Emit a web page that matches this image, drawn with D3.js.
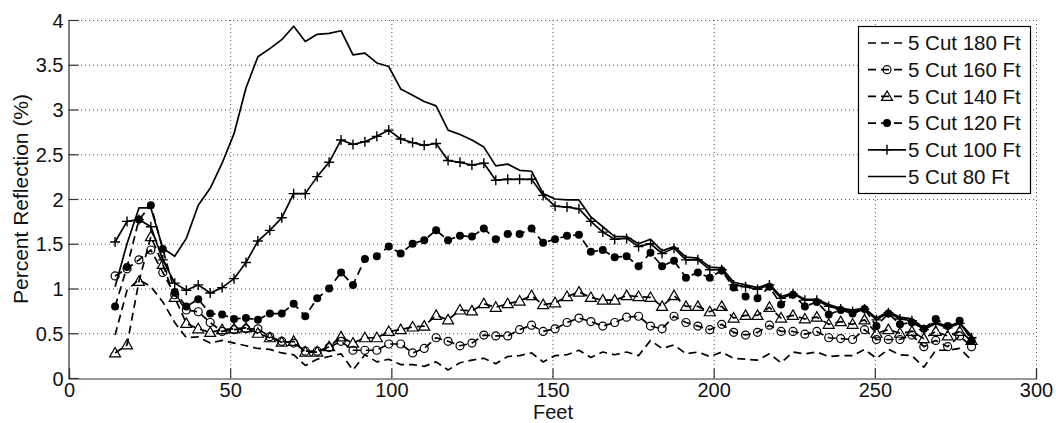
<!DOCTYPE html>
<html><head><meta charset="utf-8">
<script src="https://cdn.jsdelivr.net/npm/d3@7"></script>
<style>
html,body{margin:0;padding:0;background:#fff;}
svg{display:block;font-family:"Liberation Sans",Arial,sans-serif;}
</style></head>
<body><svg id="c" width="1056" height="423"></svg>
<script>
const feet = [14.3,18.0,21.7,25.4,29.1,32.8,36.4,40.1,43.8,47.5,51.2,54.9,58.6,62.3,66.0,69.7,73.3,77.0,80.7,84.4,88.1,91.8,95.5,99.2,102.9,106.6,110.2,113.9,117.6,121.3,125.0,128.7,132.4,136.1,139.8,143.5,147.1,150.8,154.5,158.2,161.9,165.6,169.3,173.0,176.7,180.4,184.0,187.7,191.4,195.1,198.8,202.5,206.2,209.9,213.6,217.3,220.9,224.6,228.3,232.0,235.7,239.4,243.1,246.8,250.5,254.2,257.8,261.5,265.2,268.9,272.6,276.3,280.0];

const cut180 = [0.48,0.98,1.10,1.02,0.85,0.62,0.45,0.46,0.39,0.42,0.39,0.36,0.33,0.32,0.28,0.26,0.14,0.21,0.24,0.27,0.09,0.26,0.18,0.21,0.15,0.15,0.13,0.18,0.09,0.17,0.20,0.22,0.16,0.24,0.25,0.28,0.18,0.25,0.26,0.31,0.23,0.29,0.26,0.29,0.25,0.42,0.33,0.37,0.27,0.29,0.24,0.29,0.22,0.21,0.20,0.27,0.17,0.29,0.27,0.29,0.24,0.25,0.25,0.32,0.22,0.32,0.26,0.25,0.12,0.31,0.31,0.33,0.20];

const cut160 = [1.14,1.22,1.32,1.43,1.18,0.93,0.76,0.74,0.62,0.52,0.54,0.55,0.55,0.46,0.41,0.39,0.30,0.30,0.34,0.41,0.31,0.31,0.31,0.38,0.38,0.28,0.33,0.45,0.41,0.36,0.39,0.48,0.47,0.47,0.54,0.59,0.52,0.55,0.62,0.67,0.63,0.58,0.62,0.68,0.69,0.58,0.55,0.69,0.62,0.58,0.54,0.60,0.51,0.48,0.51,0.59,0.52,0.52,0.49,0.52,0.45,0.44,0.43,0.54,0.43,0.43,0.43,0.48,0.35,0.42,0.35,0.47,0.35];

const cut140 = [0.28,0.37,1.08,1.58,1.27,0.90,0.61,0.55,0.51,0.54,0.55,0.56,0.50,0.45,0.40,0.41,0.29,0.29,0.35,0.46,0.39,0.45,0.45,0.52,0.54,0.57,0.58,0.70,0.65,0.76,0.75,0.83,0.79,0.83,0.86,0.92,0.82,0.84,0.91,0.96,0.90,0.87,0.87,0.92,0.91,0.90,0.80,0.92,0.80,0.80,0.74,0.80,0.67,0.70,0.70,0.79,0.67,0.70,0.66,0.68,0.60,0.63,0.60,0.65,0.50,0.54,0.50,0.52,0.44,0.52,0.47,0.52,0.42];

const cut120 = [0.80,1.24,1.77,1.93,1.44,0.96,0.80,0.88,0.72,0.71,0.66,0.67,0.65,0.72,0.72,0.83,0.69,0.89,1.00,1.18,1.04,1.33,1.36,1.47,1.39,1.50,1.54,1.65,1.54,1.59,1.58,1.67,1.55,1.61,1.61,1.67,1.51,1.55,1.59,1.60,1.41,1.43,1.35,1.36,1.25,1.40,1.25,1.31,1.12,1.18,1.12,1.20,1.01,0.91,0.89,1.02,0.82,0.93,0.80,0.85,0.71,0.76,0.72,0.77,0.58,0.72,0.60,0.62,0.55,0.66,0.58,0.64,0.42];

const cut100 = [1.52,1.75,1.77,1.69,1.32,1.06,0.98,1.04,0.95,1.01,1.11,1.29,1.53,1.65,1.79,2.06,2.06,2.25,2.41,2.66,2.61,2.64,2.70,2.77,2.67,2.63,2.60,2.62,2.43,2.41,2.38,2.40,2.21,2.22,2.22,2.22,2.04,1.92,1.91,1.89,1.75,1.63,1.55,1.56,1.47,1.50,1.39,1.45,1.32,1.32,1.21,1.21,1.04,1.02,0.99,1.04,0.89,0.94,0.87,0.87,0.80,0.77,0.74,0.77,0.65,0.73,0.66,0.64,0.54,0.61,0.56,0.61,0.45];

const cut80 = [1.02,1.50,1.90,1.90,1.45,1.36,1.56,1.93,2.12,2.40,2.73,3.24,3.59,3.68,3.78,3.93,3.76,3.84,3.85,3.88,3.61,3.63,3.52,3.48,3.23,3.16,3.09,3.04,2.77,2.72,2.66,2.58,2.37,2.39,2.32,2.31,2.06,2.00,1.99,1.99,1.80,1.69,1.58,1.58,1.50,1.55,1.42,1.47,1.35,1.34,1.24,1.23,1.07,1.04,1.01,1.05,0.91,0.95,0.88,0.88,0.82,0.78,0.76,0.78,0.67,0.74,0.68,0.66,0.56,0.62,0.58,0.62,0.47];

const xTicks = [0,50,100,150,200,250,300];
const yTicks = [0,0.5,1,1.5,2,2.5,3,3.5,4];
const xLabel = "Feet";
const yLabel = "Percent Reflection (%)";

const seriesNames = ["5 Cut 180 Ft","5 Cut 160 Ft","5 Cut 140 Ft","5 Cut 120 Ft","5 Cut 100 Ft","5 Cut 80 Ft"];
const seriesValues = [cut180,cut160,cut140,cut120,cut100,cut80];
const seriesMarkers = ["none","circle","triangle","dot","plus","none"];
const seriesDashed = [true,true,true,true,false,false];

const svg = d3.select("#c");
const L = 69, R = 1036, T = 20, B = 378;
const x = d3.scaleLinear().domain([0,300]).range([L,R]);
const y = d3.scaleLinear().domain([0,4]).range([B,T]);

// grid
const grid = svg.append("g").attr("stroke","#555").attr("stroke-width",1).attr("stroke-dasharray","1,3");
xTicks.filter(d=>d>0).forEach(d=>grid.append("line").attr("x1",x(d)+0.5).attr("x2",x(d)+0.5).attr("y1",T).attr("y2",B));
yTicks.filter(d=>d>0).forEach(d=>grid.append("line").attr("x1",L).attr("x2",R).attr("y1",y(d)+0.5).attr("y2",y(d)+0.5));

// axes
const xAxis = d3.axisBottom(x).tickValues(xTicks).tickSize(-10).tickPadding(4).tickFormat(d3.format("d"));
const yAxis = d3.axisLeft(y).tickValues(yTicks).tickSize(-10).tickPadding(5).tickFormat(d=>String(d));
const gx = svg.append("g").attr("transform",`translate(0,${B+0.5})`).call(xAxis);
const gy = svg.append("g").attr("transform",`translate(${L-0.5},0)`).call(yAxis);
[gx,gy].forEach(g=>{
  g.select(".domain").attr("stroke","#333").attr("stroke-width",1.2);
  g.selectAll(".tick line").attr("stroke","#333").attr("stroke-width",1.2);
  g.selectAll(".tick text").attr("fill","#111").style("font-size","20px").style("font-family","'Liberation Sans',Arial,sans-serif");
});
gy.selectAll(".tick text").attr("dy","0.36em");
gx.selectAll(".tick text").attr("dy","0.7em");

svg.append("text").attr("x",553).attr("y",419).attr("text-anchor","middle").attr("fill","#111").style("font-size","20px").text(xLabel);
svg.append("text").attr("transform","translate(28,199) rotate(-90)").attr("text-anchor","middle").attr("fill","#111").style("font-size","21px").text(yLabel);

// series
const line = d3.line().x((d,i)=>x(feet[i])).y(d=>y(d));
function drawMarker(g, type, cx, cy){
  if(type==="circle") g.append("circle").attr("cx",cx).attr("cy",cy).attr("r",4).attr("fill","none").attr("stroke","#000").attr("stroke-width",1.2);
  else if(type==="dot") g.append("circle").attr("cx",cx).attr("cy",cy).attr("r",4).attr("fill","#000");
  else if(type==="triangle") g.append("path").attr("d",`M${cx},${cy-5.5}L${cx+5.5},${cy+4}L${cx-5.5},${cy+4}Z`).attr("fill","none").attr("stroke","#000").attr("stroke-width",1.2);
  else if(type==="plus") g.append("path").attr("d",`M${cx-5},${cy}H${cx+5}M${cx},${cy-5}V${cy+5}`).attr("stroke","#000").attr("stroke-width",1.4);
}
const plot = svg.append("g");
seriesValues.forEach((vals,k)=>{
  const g = plot.append("g");
  g.append("path").attr("d",line(vals)).attr("fill","none").attr("stroke","#000").attr("stroke-width",1.7)
    .attr("stroke-dasharray",seriesDashed[k]?"8,5":null).attr("stroke-linejoin","round");
  if(seriesMarkers[k]!=="none") vals.forEach((v,i)=>drawMarker(g,seriesMarkers[k],x(feet[i]),y(v)));
});

// legend
const lg = svg.append("g");
lg.append("rect").attr("x",858.5).attr("y",26.5).attr("width",172).attr("height",167).attr("fill","#fff").attr("stroke","#000").attr("stroke-width",1.2);
seriesNames.forEach((name,k)=>{
  const cy = 43 + k*26.7;
  lg.append("line").attr("x1",868).attr("x2",906).attr("y1",cy).attr("y2",cy).attr("stroke","#000").attr("stroke-width",1.7)
    .attr("stroke-dasharray",seriesDashed[k]?"8,5":null);
  if(seriesMarkers[k]!=="none") drawMarker(lg,seriesMarkers[k],887,cy);
  lg.append("text").attr("x",908).attr("y",cy).attr("dy","0.36em").attr("fill","#111").style("font-size","20.5px").text(name);
});
</script></body></html>
